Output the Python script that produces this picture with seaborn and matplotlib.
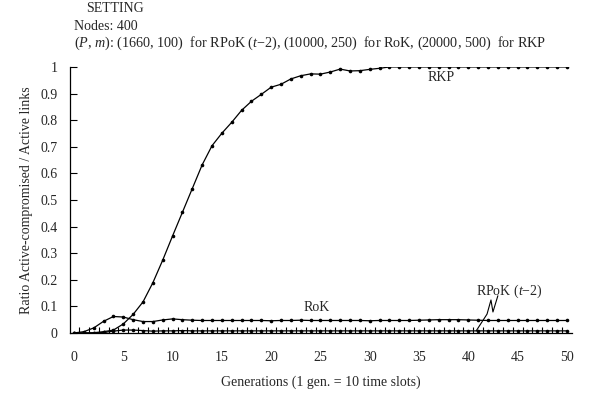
import numpy as np
import pandas as pd
import seaborn as sns
import matplotlib.pyplot as plt
from matplotlib.ticker import FixedLocator

generations = list(range(51))

rkp = [0.0, 0.0, 0.001, 0.005, 0.011, 0.034, 0.070, 0.117, 0.189, 0.274,
       0.365, 0.454, 0.543, 0.632, 0.704, 0.751, 0.792, 0.837, 0.871, 0.897,
       0.924, 0.935, 0.955, 0.967, 0.974, 0.973, 0.981, 0.992, 0.985, 0.986,
       0.991, 0.995, 1.0, 1.0, 1.0, 1.0, 1.0, 1.0, 1.0, 1.0,
       1.0, 1.0, 1.0, 1.0, 1.0, 1.0, 1.0, 1.0, 1.0, 1.0, 1.0]

rok = [0.0, 0.005, 0.019, 0.044, 0.062, 0.060, 0.050, 0.043, 0.043, 0.049,
       0.053, 0.050, 0.048, 0.047, 0.047, 0.047, 0.047, 0.047, 0.047, 0.047,
       0.046, 0.047, 0.047, 0.048, 0.047, 0.047, 0.047, 0.047, 0.047, 0.047,
       0.046, 0.047, 0.047, 0.047, 0.047, 0.048, 0.049, 0.050, 0.050, 0.050,
       0.049, 0.048, 0.047, 0.047, 0.047, 0.047, 0.047, 0.047, 0.047, 0.047, 0.047]

rpok = [0.0, 0.0, 0.0, 0.002, 0.007, 0.011, 0.011, 0.009, 0.007, 0.008,
        0.008, 0.009, 0.008, 0.008, 0.008, 0.008, 0.008, 0.008, 0.008, 0.008,
        0.008, 0.008, 0.008, 0.008, 0.008, 0.008, 0.008, 0.008, 0.008, 0.008,
        0.008, 0.008, 0.008, 0.008, 0.008, 0.008, 0.008, 0.008, 0.008, 0.008,
        0.008, 0.008, 0.008, 0.008, 0.008, 0.008, 0.008, 0.008, 0.008, 0.008, 0.008]

x_ticks = [0, 5, 10, 15, 20, 25, 30, 35, 40, 45, 50]
y_ticks = [0, 0.1, 0.2, 0.3, 0.4, 0.5, 0.6, 0.7, 0.8, 0.9, 1]
y_tick_labels = ['0', '0.1', '0.2', '0.3', '0.4', '0.5', '0.6', '0.7', '0.8', '0.9', '1']

sns.set_theme(style="white")
plt.rcParams['font.family'] = ['Liberation Serif', 'DejaVu Serif']
plt.rcParams['mathtext.fontset'] = 'custom'
plt.rcParams['mathtext.rm'] = 'Liberation Serif'
plt.rcParams['mathtext.it'] = 'Liberation Serif:italic'

df = pd.DataFrame({'gen': generations, 'RKP': rkp, 'RoK': rok, 'RPoK': rpok})

fig = plt.figure(figsize=(5.89, 4.01), dpi=100)
ax = fig.add_axes([0.1188, 0.1696, 0.852, 0.6634])

for name in ['RKP', 'RoK', 'RPoK']:
    sns.lineplot(x='gen', y=name, data=df, ax=ax, color='black', lw=0.9,
                 marker='o', markersize=2.6, markeredgewidth=0)

ax.set_xlim(-0.41, 50.5)
ax.set_ylim(0, 1)
for s in ['top', 'right']:
    ax.spines[s].set_visible(False)
for s in ['left', 'bottom']:
    ax.spines[s].set_color('black')
    ax.spines[s].set_linewidth(0.9)

ax.set_xticks(x_ticks)
ax.set_xticklabels([str(t) for t in x_ticks])
ax.xaxis.set_minor_locator(FixedLocator(np.arange(0.5, 50.5, 1)))
ax.set_yticks(y_ticks)
ax.set_yticklabels(y_tick_labels)
ax.tick_params(axis='x', which='major', length=0, pad=13, labelsize=10)
ax.tick_params(axis='x', which='minor', direction='in', length=4, width=0.8, color='black', bottom=True)
ax.tick_params(axis='y', which='major', direction='in', length=5, width=0.8, color='black',
               left=True, pad=9, labelsize=10)

ax.set_xlabel("Generations (1 gen. = 10 time slots)", fontsize=10, labelpad=8)
ax.set_ylabel("Ratio Active-compromised / Active links", fontsize=10, labelpad=5)

ax.text(37.2, 0.962, "RKP", fontsize=10, ha='center', va='center')
ax.text(24.6, 0.094, "RoK", fontsize=10, ha='center', va='center')
ax.text(44.2, 0.155, "RPoK ($t$\u22122)", fontsize=10, ha='center', va='center')
ax.plot([40.8, 41.9, 42.3, 42.5, 43.0], [0.008, 0.071, 0.124, 0.079, 0.140],
        color='black', lw=0.8)

fig.text(86 / 589, 1 - 9 / 401, "SETTING", fontsize=10, va='center')
fig.text(74 / 589, 1 - 26 / 401, "Nodes: 400", fontsize=10, va='center')
fig.text(74 / 589, 1 - 43 / 401,
         "($P$, $m$): (1660, 100)  for RPoK ($t$\u22122), (10000, 250)  for RoK, (20000, 500)  for RKP",
         fontsize=10.2, va='center')

plt.savefig("out.png", dpi=100)
